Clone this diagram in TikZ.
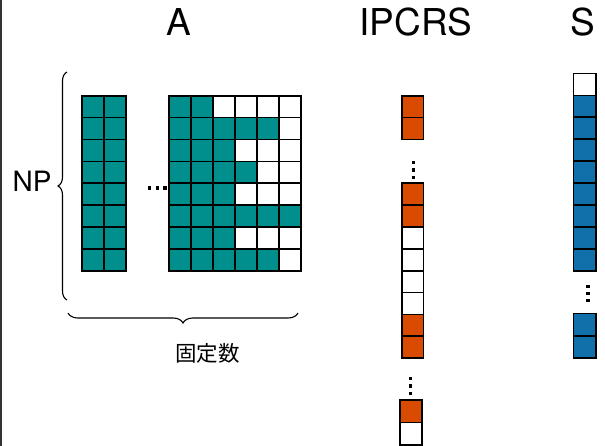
\documentclass[tikz,border=0pt]{standalone}
\usepackage{fontspec}
\setmainfont{TeX Gyre Heros}
\newfontfamily\cjk{Noto Sans CJK JP}
\usetikzlibrary{decorations.pathreplacing}
\definecolor{tealc}{RGB}{0,143,140}
\definecolor{orangec}{RGB}{216,75,0}
\definecolor{bluec}{RGB}{17,112,170}
\newcommand\mycell[5]{\filldraw[fill=#5,draw=black,line width=1.7] (#1,#2) rectangle ++(#3,#4);}
\newcommand\mydot[2]{\fill[black] (#1-1.7,#2-1.7) rectangle ++(3.4,3.4);}
\begin{document}
\begin{tikzpicture}[x=1pt,y=-1pt,
  title/.style={font=\fontsize{37}{40}\selectfont, anchor=base, inner sep=0},
  bracestyle/.style={decorate, line width=1.1, decoration={brace, amplitude=#1}}]
\useasboundingbox (0,0) rectangle (605,446);
\fill[white] (0,0) rectangle (605,446);
\draw[line width=2, black!80] (1,0) -- (1,446);
% titles
\node[title] (tA) at (179,35.7) {A};
\node[title] (tI) at (416,35.7) {IPCRS};
\node[title] (tS) at (583.3,35.7) {S};
\node[font=\fontsize{28}{30}\selectfont, anchor=base, inner sep=0] (np) at (32,191.7) {NP};
\node[font=\cjk\fontsize{21.5}{24}\selectfont, inner sep=0] (fix) at (207.5,353.5) {固定数};
% A left block
\foreach \r in {0,...,7} { \foreach \c in {0,1} {
  \mycell{81.7+22*\c}{95.7+21.9*\r}{22}{21.9}{tealc} } }
% A right block
\foreach \r/\n in {0/2,1/5,2/3,3/4,4/3,5/6,6/3,7/5} { \foreach \c in {0,...,5} {
  \ifnum\c<\n\relax \def\cc{tealc}\else\def\cc{white}\fi
  \mycell{169.3+21.9*\c}{95.7+21.9*\r}{21.9}{21.9}{\cc} } }
% dots in A
\foreach \x in {149.5,157.3,165} { \mydot{\x}{188} }
% IPCRS
\foreach \r in {0,1} { \mycell{401.7}{95.7+21.9*\r}{21.7}{21.9}{orangec} }
\foreach \r/\cc in {0/orangec,1/orangec,2/white,3/white,4/white,5/white,6/orangec,7/orangec} {
  \mycell{401.7}{183.3+21.85*\r}{21.7}{21.85}{\cc} }
\mycell{400}{400}{21.7}{22.5}{orangec}
\mycell{400}{422.5}{21.7}{22.5}{white}
\foreach \y in {162.7,170.2,177.7} { \mydot{413.3}{\y} }
\foreach \y in {378.3,386,393.7} { \mydot{410.7}{\y} }
% S
\mycell{573.5}{73.4}{22.2}{22}{white}
\foreach \r in {0,...,7} { \mycell{573.5}{95.4+21.95*\r}{22.2}{21.95}{bluec} }
\foreach \r in {0,1} { \mycell{573.5}{313.5+22.4*\r}{22.2}{22.4}{bluec} }
\foreach \y in {286.7,293.7,300.7} { \mydot{588}{\y} }
% braces
\coordinate (b1s) at (67,300);
\coordinate (b1e) at (67,72);
\draw[bracestyle=9] (b1s) -- (b1e);
\coordinate (b2s) at (298,313);
\coordinate (b2e) at (68,313);
\draw[bracestyle=10] (b2s) -- (b2e);
\end{tikzpicture}
\end{document}
